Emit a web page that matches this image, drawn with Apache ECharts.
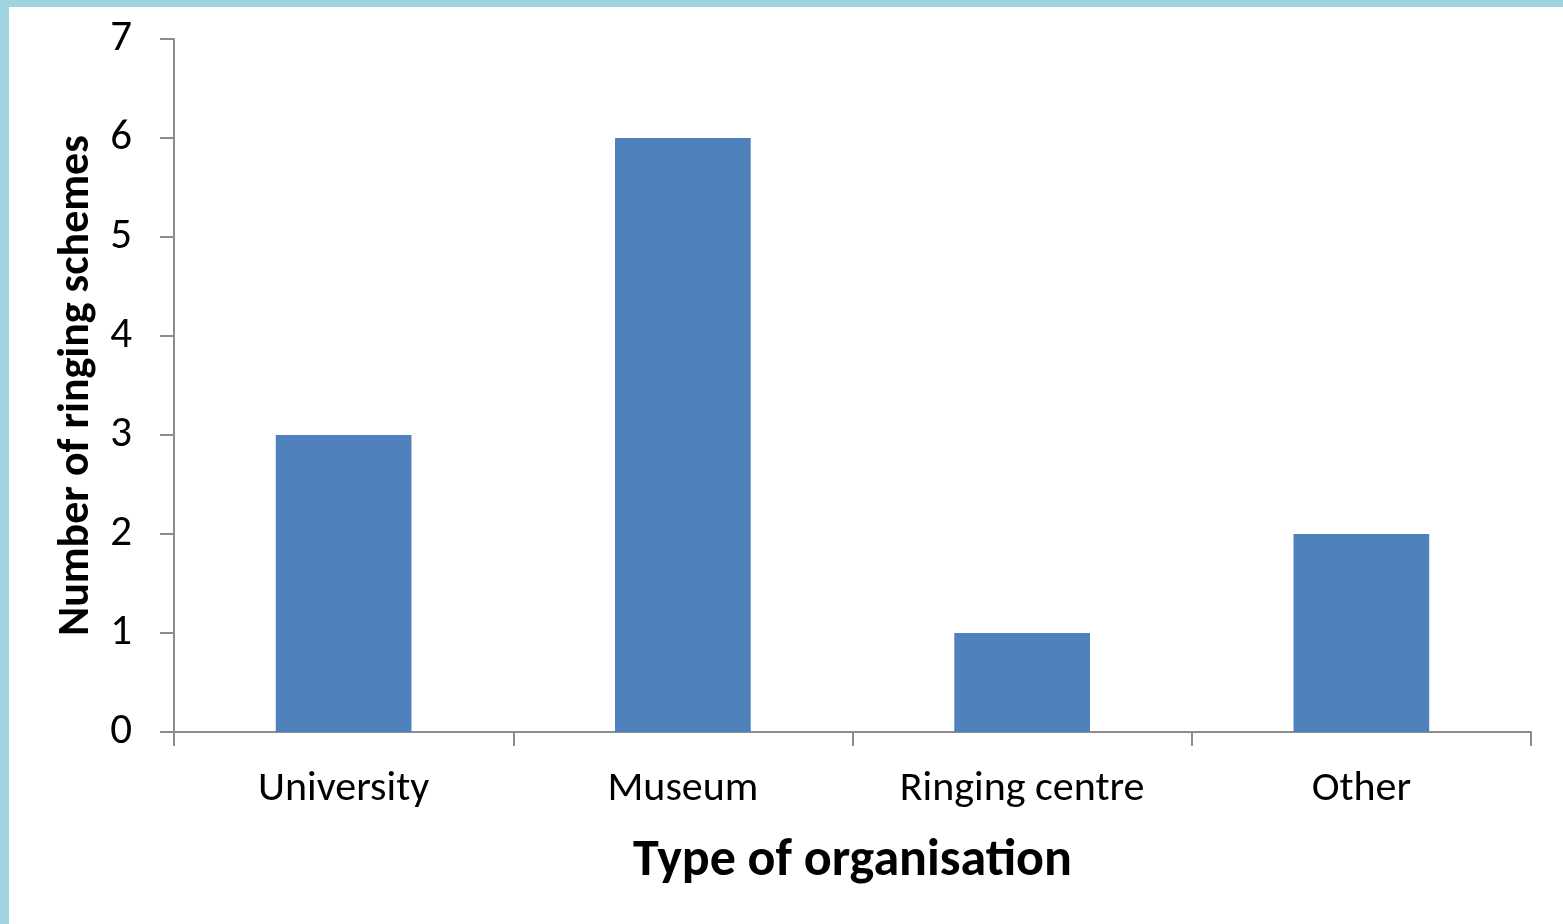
<!DOCTYPE html>
<html>
<head>
<meta charset="utf-8">
<script src="https://cdn.jsdelivr.net/npm/echarts@6/dist/echarts.min.js"></script>
<style>
html,body{margin:0;padding:0;background:#fff;}
#chart{width:1563px;height:924px;}
</style>
</head>
<body>
<div id="chart"></div>
<script>
const categories = ["University", "Museum", "Ringing centre", "Other"];
const values = [3, 6, 1, 2];
const yTicks = [0, 1, 2, 3, 4, 5, 6, 7];

const chart = echarts.init(document.getElementById('chart'), null, {renderer: 'canvas'});
const font = "Carlito, 'Open Sans', 'Liberation Sans', sans-serif";
chart.setOption({
  animation: false,
  backgroundColor: '#ffffff',
  graphic: [
    {type: 'rect', left: 0, top: 0, shape: {width: 1563, height: 7}, style: {fill: '#9FD3E0'}},
    {type: 'rect', left: 0, top: 0, shape: {width: 9, height: 924}, style: {fill: '#9FD3E0'}}
  ],
  grid: {left: 174, right: 32, top: 39, bottom: 192, containLabel: false},
  xAxis: {
    type: 'category',
    data: categories,
    name: 'Type of organisation',
    nameLocation: 'middle',
    nameGap: 104,
    nameTextStyle: {fontSize: 52, fontWeight: 'bold', color: '#000', fontFamily: font},
    axisLine: {lineStyle: {color: '#8c8c8c', width: 2}},
    axisTick: {show: true, length: 14, inside: false, lineStyle: {color: '#8c8c8c', width: 2}},
    axisLabel: {fontSize: 42, color: '#000', margin: 36, fontFamily: font}
  },
  yAxis: {
    type: 'value',
    min: yTicks[0],
    max: yTicks[yTicks.length - 1],
    interval: 1,
    name: 'Number of ringing schemes',
    nameLocation: 'middle',
    nameGap: 75,
    nameRotate: 90,
    nameTextStyle: {fontSize: 44, fontWeight: 'bold', color: '#000', fontFamily: font},
    axisLine: {show: true, lineStyle: {color: '#8c8c8c', width: 2}},
    axisTick: {show: true, length: 14, lineStyle: {color: '#8c8c8c', width: 2}},
    splitLine: {show: false},
    axisLabel: {fontSize: 43, color: '#000', margin: 42, fontFamily: font}
  },
  series: [{
    type: 'bar',
    data: values,
    barWidth: '40%',
    itemStyle: {color: '#4F81BD'}
  }]
});
</script>
</body>
</html>
